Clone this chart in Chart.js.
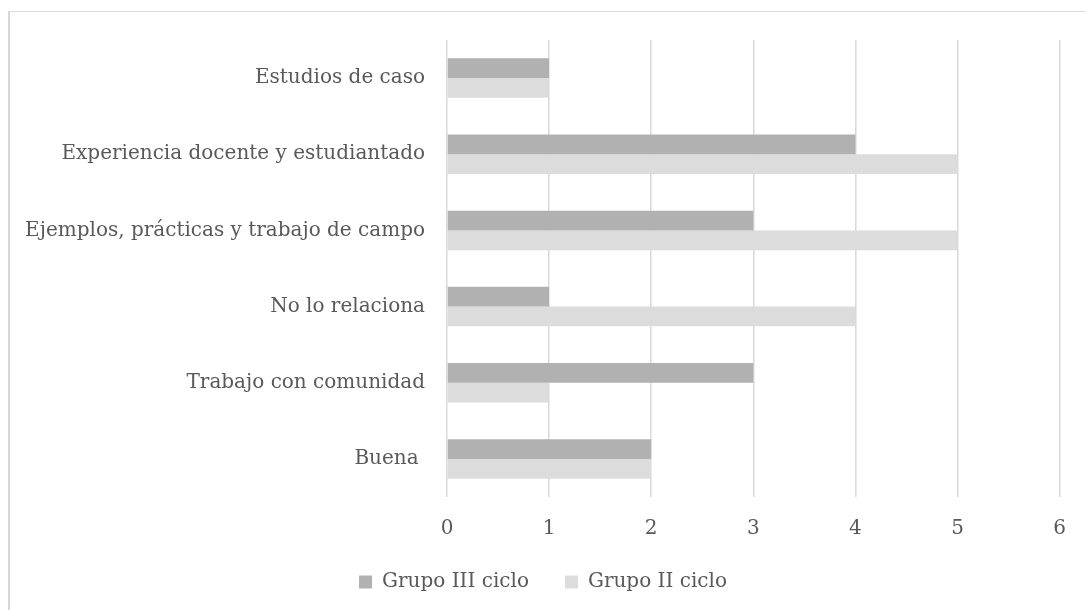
<!DOCTYPE html>
<html>
<head>
<meta charset="utf-8">
<script src="https://cdn.jsdelivr.net/npm/chart.js@4/dist/chart.umd.min.js"></script>
<style>
  html, body { margin: 0; padding: 0; background: #ffffff; }
  #wrap { position: relative; width: 1086px; height: 610px; overflow: hidden; }
  #frame { position: absolute; left: 8px; top: 11px; right: -10px; bottom: -10px;
           border-left: 2px solid #d6d6d6; border-top: 1px solid #dedede; }
  canvas { position: absolute; left: 0; top: 0; }
</style>
</head>
<body>
<div id="wrap">
  <div id="frame"></div>
  <canvas id="c" width="1086" height="610"></canvas>
</div>
<script>
const categories = [
  "Estudios de caso",
  "Experiencia docente y estudiantado",
  "Ejemplos, prácticas y trabajo de campo",
  "No lo relaciona",
  "Trabajo con comunidad",
  "Buena "
];
const grupoIII = [1, 4, 3, 1, 3, 2];
const grupoII = [1, 5, 5, 4, 1, 2];
const seriesNames = ["Grupo III ciclo", "Grupo II ciclo"];
const xTicks = [0, 1, 2, 3, 4, 5, 6];

const FONT = "'DejaVu Serif', 'Liberation Serif', serif";
const FS = 20;
const TEXT = "#595959";

new Chart(document.getElementById("c"), {
  type: "bar",
  data: {
    labels: categories,
    datasets: [
      { label: seriesNames[0], data: grupoIII, backgroundColor: "#b1b1b1", borderWidth: 0 },
      { label: seriesNames[1], data: grupoII, backgroundColor: "#dcdcdc", borderWidth: 0 }
    ]
  },
  options: {
    indexAxis: "y",
    responsive: false,
    animation: false,
    devicePixelRatio: 1,
    layout: { padding: { left: 22, right: 22, top: 40, bottom: 8 } },
    datasets: { bar: { categoryPercentage: 0.518, barPercentage: 1.0 } },
    plugins: {
      tooltip: { enabled: false },
      legend: {
        position: "bottom",
        labels: {
          color: TEXT,
          font: { family: FONT, size: FS },
          boxWidth: 13,
          boxHeight: 13,
          padding: 36
        }
      }
    },
    scales: {
      x: {
        min: xTicks[0],
        max: xTicks[xTicks.length - 1],
        afterBuildTicks: (s) => { s.ticks = xTicks.map(v => ({ value: v })); },
        afterFit: (s) => { s.height = 39; },
        grid: { color: "#d9d9d9", lineWidth: 1.5, drawTicks: false },
        border: { display: false },
        ticks: { color: TEXT, font: { family: FONT, size: FS }, padding: 20 }
      },
      y: {
        afterFit: (s) => { s.width = 425; },
        grid: { display: false, drawTicks: false },
        border: { display: false },
        ticks: { color: TEXT, font: { family: FONT, size: FS }, padding: 22 }
      }
    }
  }
});
</script>
</body>
</html>
